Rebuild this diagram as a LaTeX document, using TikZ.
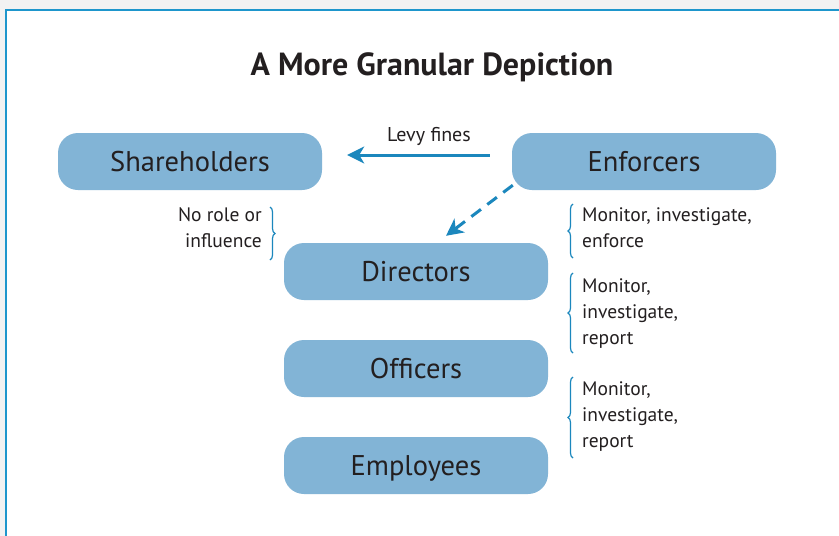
\documentclass[tikz,border=0pt]{standalone}
\usepackage{fontspec}
\setmainfont{PT Sans}
\usetikzlibrary{decorations.pathreplacing,arrows.meta,calc}
\definecolor{boxblue}{HTML}{82B4D6}
\definecolor{lineblue}{HTML}{1B87BD}
\definecolor{frameblue}{HTML}{1E96CC}
\definecolor{txt}{HTML}{231F20}
\begin{document}
\begin{tikzpicture}[x=1pt,y=-1pt,
  entity/.style={draw=none, fill=boxblue, rounded corners=20pt, minimum width=264pt, minimum height=57pt, inner sep=0pt, text height=26pt, text depth=6pt, font=\fontsize{28.5}{32}\selectfont, text=txt},
  note/.style={font=\fontsize{19.5}{26}\selectfont, text=txt, inner sep=0pt},
  bracestyle/.style={decorate, decoration={brace, amplitude=5pt}, draw=lineblue, line width=1.2pt},
  conn/.style={draw=lineblue, line width=3pt, -{Stealth[length=17pt,width=17pt,inset=5pt]}}]
\useasboundingbox (0,0) rectangle (839,536);
\fill[black!5] (0,0) rectangle (839,536);
\fill[white] (6,10) rectangle (845,545);
\draw[frameblue, line width=1.2pt] (6,545) -- (6,10) -- (845,10);
\node[font=\bfseries\fontsize{32}{36}\selectfont, text=txt] (title) at (432,67) {A More Granular Depiction};
\node[entity] (sh) at (190,161.5) {Shareholders};
\node[entity] (enf) at (644,161.5) {Enforcers};
\node[entity] (dir) at (416,271.5) {Directors};
\node[entity] (off) at (416,368.5) {Officers};
\node[entity] (emp) at (416,465.5) {Employees};
\draw[conn] ($(enf.west)+(-22,-6.5)$) -- ($(sh.east)+(25,-6.5)$);
\node[note, font=\fontsize{20}{26}\selectfont] (levy) at (429,136) {Levy fines};
\draw[conn, dash pattern=on 12pt off 8pt] ($(enf.south west)+(1,-5)$) -- ($(dir.north)+(30,-7)$);
\draw[bracestyle] (270,207) -- (270,260);
\node[note, anchor=east, align=right] (norole) at (262,228) {No role or\\influence};
\draw[bracestyle] (573,258) -- (573,204);
\node[note, anchor=west, align=left] (n1) at (582,228) {Monitor, investigate,\\enforce};
\draw[bracestyle] (573,353) -- (573,273);
\node[note, anchor=west, align=left] (n2) at (582,314) {Monitor,\\investigate,\\report};
\draw[bracestyle] (573,458) -- (573,377);
\node[note, anchor=west, align=left] (n3) at (582,417) {Monitor,\\investigate,\\report};
\end{tikzpicture}
\end{document}
